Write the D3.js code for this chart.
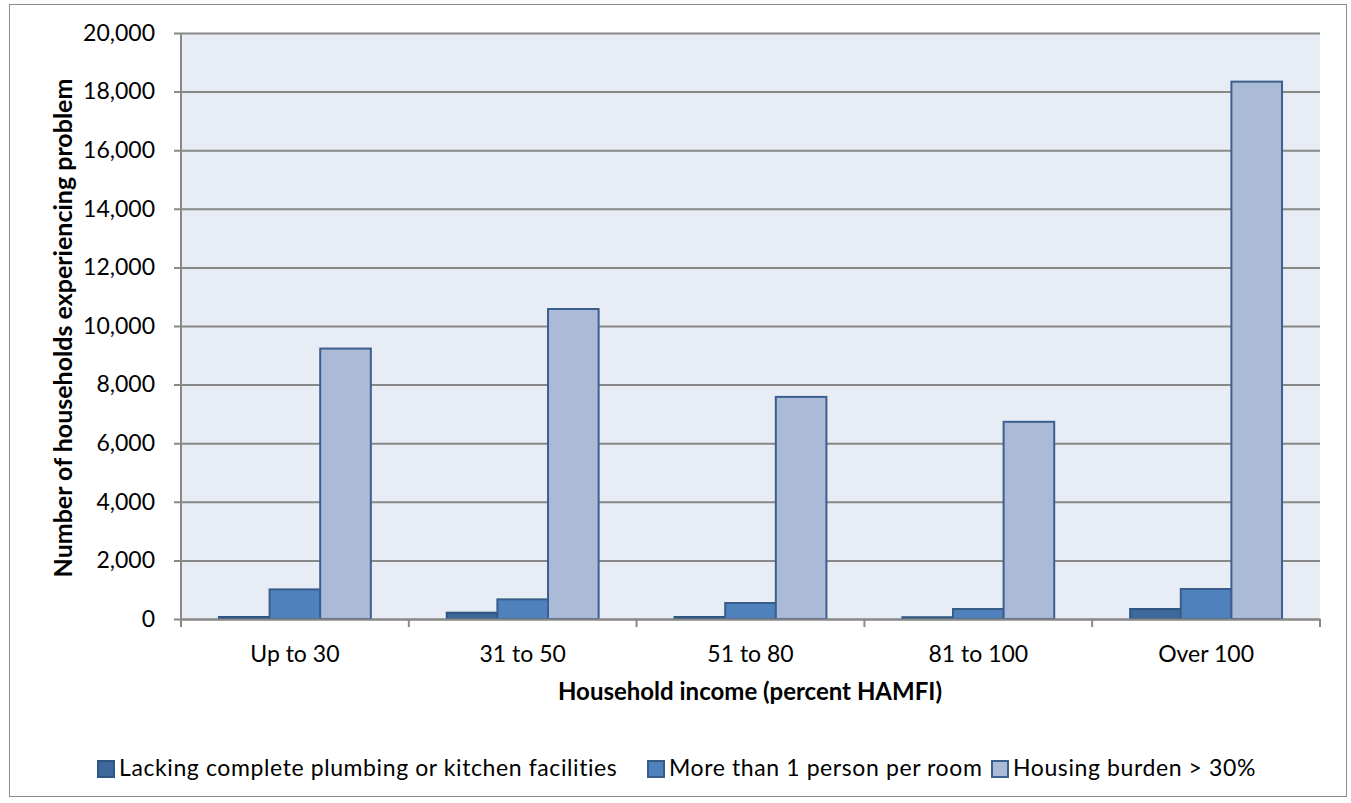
<!DOCTYPE html>
<html><head><meta charset="utf-8">
<script src="https://cdn.jsdelivr.net/npm/d3@7"></script>
<style>body{margin:0;background:#fff}svg{display:block}text{font-family:Lato,"Open Sans",sans-serif;fill:#000}</style>
</head><body>
<svg id="c" width="1351" height="803"></svg>
<script>
const categories = ["Up to 30", "31 to 50", "51 to 80", "81 to 100", "Over 100"];
const seriesNames = ["Lacking complete plumbing or kitchen facilities", "More than 1 person per room", "Housing burden > 30%"];
const plumbing = [68, 215, 68, 60, 341];
const crowding = [1010, 670, 546, 341, 1024];
const burden = [9230, 10580, 7580, 6730, 18340];
const yTicks = [0, 2000, 4000, 6000, 8000, 10000, 12000, 14000, 16000, 18000, 20000];
const fills = ["#3d689b", "#4f81bd", "#aabad7"];
const strokes = ["#2f5683", "#385d8a", "#3b5f8f"];

const series = [plumbing, crowding, burden];
const svg = d3.select("#c");
const L = 181, R = 1320, T = 33, B = 619;

svg.append("rect").attr("x", 9.5).attr("y", 4.5).attr("width", 1337).attr("height", 792)
  .attr("fill", "#fff").attr("stroke", "#8c8c8c").attr("stroke-width", 1);

svg.append("rect").attr("x", L).attr("y", T).attr("width", R - L).attr("height", B - T).attr("fill", "#e8ecf4");

const y = d3.scaleLinear().domain([0, 20000]).range([B, T]);
const x0 = d3.scaleBand().domain(categories).range([L, R]).paddingInner(0).paddingOuter(0);
const x1 = d3.scaleBand().domain([0, 1, 2]).range([0, x0.bandwidth()]).paddingOuter(0.75).paddingInner(0);

// grid + y labels
const yAxis = d3.axisLeft(y).tickValues(yTicks).tickSize(-(R - L)).tickSizeOuter(0).tickPadding(26).tickFormat(d3.format(","));
const gy = svg.append("g").attr("transform", `translate(${L},0)`).call(yAxis);
gy.select(".domain").remove();
gy.selectAll(".tick line").attr("stroke", "#888").attr("stroke-width", 2).attr("x1", -7);
gy.selectAll(".tick text").attr("font-size", 23).attr("fill", "#000");

// bars
categories.forEach((c, i) => {
  series.forEach((s, j) => {
    svg.append("rect")
      .attr("x", x0(c) + x1(j))
      .attr("y", y(s[i]))
      .attr("width", x1.bandwidth())
      .attr("height", B - y(s[i]))
      .attr("fill", fills[j]).attr("stroke", strokes[j]).attr("stroke-width", 2);
  });
});

// axes lines
svg.append("line").attr("x1", L).attr("x2", L).attr("y1", T).attr("y2", B).attr("stroke", "#888").attr("stroke-width", 2);
const xAxis = d3.axisBottom(x0).tickSize(0).tickPadding(27);
const gx = svg.append("g").attr("transform", `translate(0,${B})`).call(xAxis);
gx.select(".domain").attr("stroke", "#888").attr("stroke-width", 2);
gx.selectAll(".tick text").attr("font-size", 23).attr("fill", "#000");
const bounds = categories.map(c => x0(c)).concat([R]);
svg.selectAll(".xt").data(bounds).enter().append("line")
  .attr("x1", d => d).attr("x2", d => d).attr("y1", B).attr("y2", B + 8)
  .attr("stroke", "#888").attr("stroke-width", 2);

// titles
svg.append("text").attr("x", 750).attr("y", 700).attr("text-anchor", "middle")
  .attr("font-size", 24).attr("font-weight", "bold").text("Household income (percent HAMFI)");
svg.append("text").attr("transform", `translate(62,${(T + B) / 2 + 2}) rotate(-90)`).attr("text-anchor", "middle")
  .attr("dominant-baseline", "central")
  .attr("font-size", 25).attr("font-weight", "bold").text("Number of households experiencing problem");

// legend
const legX = [98, 648, 992];
seriesNames.forEach((n, j) => {
  svg.append("rect").attr("x", legX[j]).attr("y", 761).attr("width", 16).attr("height", 16)
    .attr("fill", fills[j]).attr("stroke", strokes[j]).attr("stroke-width", 2);
  svg.append("text").attr("x", legX[j] + 21).attr("y", 776).attr("font-size", 23)
    .attr("letter-spacing", 0.6).text(n);
});
</script>
</body></html>
